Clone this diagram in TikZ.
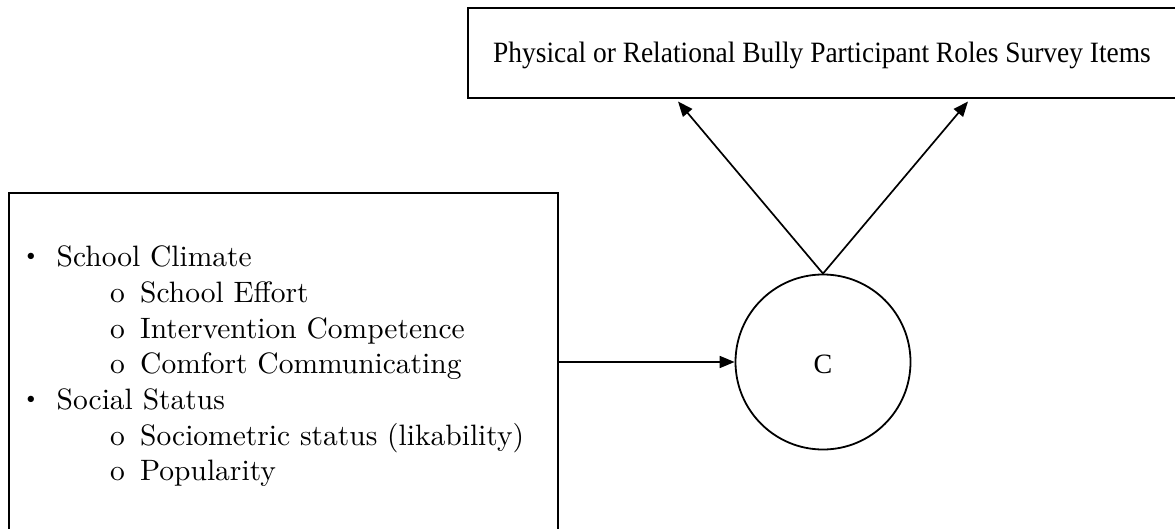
\documentclass[tikz,border=0pt]{standalone}
\usepackage{fontspec}
\newfontfamily\timesf{Liberation Serif}
\newfontfamily\lmten{lmroman10-regular}[Extension=.otf]
\usetikzlibrary{arrows.meta}
\begin{document}
\begin{tikzpicture}[x=1pt,y=-1pt,
  boxline/.style={draw=black,line width=1.8pt,inner sep=0pt},
  conn/.style={line width=1.7pt,-{Triangle[length=15pt,width=12pt]}},
  listtxt/.style={anchor=base west,inner sep=0pt,font=\lmten\fontsize{29.5}{34}\selectfont},
  bullettxt/.style={anchor=center,inner sep=0pt,font=\lmten\fontsize{22}{26}\selectfont},
]
\useasboundingbox (0,0) rectangle (1175,529);
\node[boxline,minimum width=730pt,minimum height=90pt] (top) at (833,53) {};
\node[anchor=base,inner sep=0pt] (toptxt) at (822,62.5)
  {\timesf\fontsize{29.5}{34}\selectfont\scalebox{0.93}[1]{Physical or Relational Bully Participant Roles Survey Items}};
\node[boxline,minimum width=549pt,minimum height=350pt] (left) at (283.5,368) {};
\node[boxline,circle,minimum size=175pt] (c) at (823,362) {};
\node[anchor=base,inner sep=0pt] (ctxt) at (823,373) {\timesf\fontsize{28}{30}\selectfont C};
\node[bullettxt] (b1) at (31,257) {\textbullet};
\node[listtxt] (l1) at (56.5,266.7) {School Climate};
\node[listtxt] (o1) at (110,302.3) {o};
\node[listtxt] (l2) at (140,302.3) {School Effort};
\node[listtxt] (o2) at (110,338) {o};
\node[listtxt] (l3) at (140,338) {Intervention Competence};
\node[listtxt] (o3) at (110,373.7) {o};
\node[listtxt] (l4) at (140,373.7) {Comfort Communicating};
\node[bullettxt] (b2) at (31,400) {\textbullet};
\node[listtxt] (l5) at (56.5,409.3) {Social Status};
\node[listtxt] (o4) at (110,445) {o};
\node[listtxt] (l6) at (140,445) {Sociometric status (likability)};
\node[listtxt] (o5) at (110,480.7) {o};
\node[listtxt] (l7) at (140,480.7) {Popularity};
\coordinate (t1) at (678,101.5);
\coordinate (t2) at (968,101.5);
\draw[conn] (left.east |- c.west) -- (c.west);
\draw[conn] (c.north) -- (t1);
\draw[conn] (c.north) -- (t2);
\end{tikzpicture}
\end{document}
